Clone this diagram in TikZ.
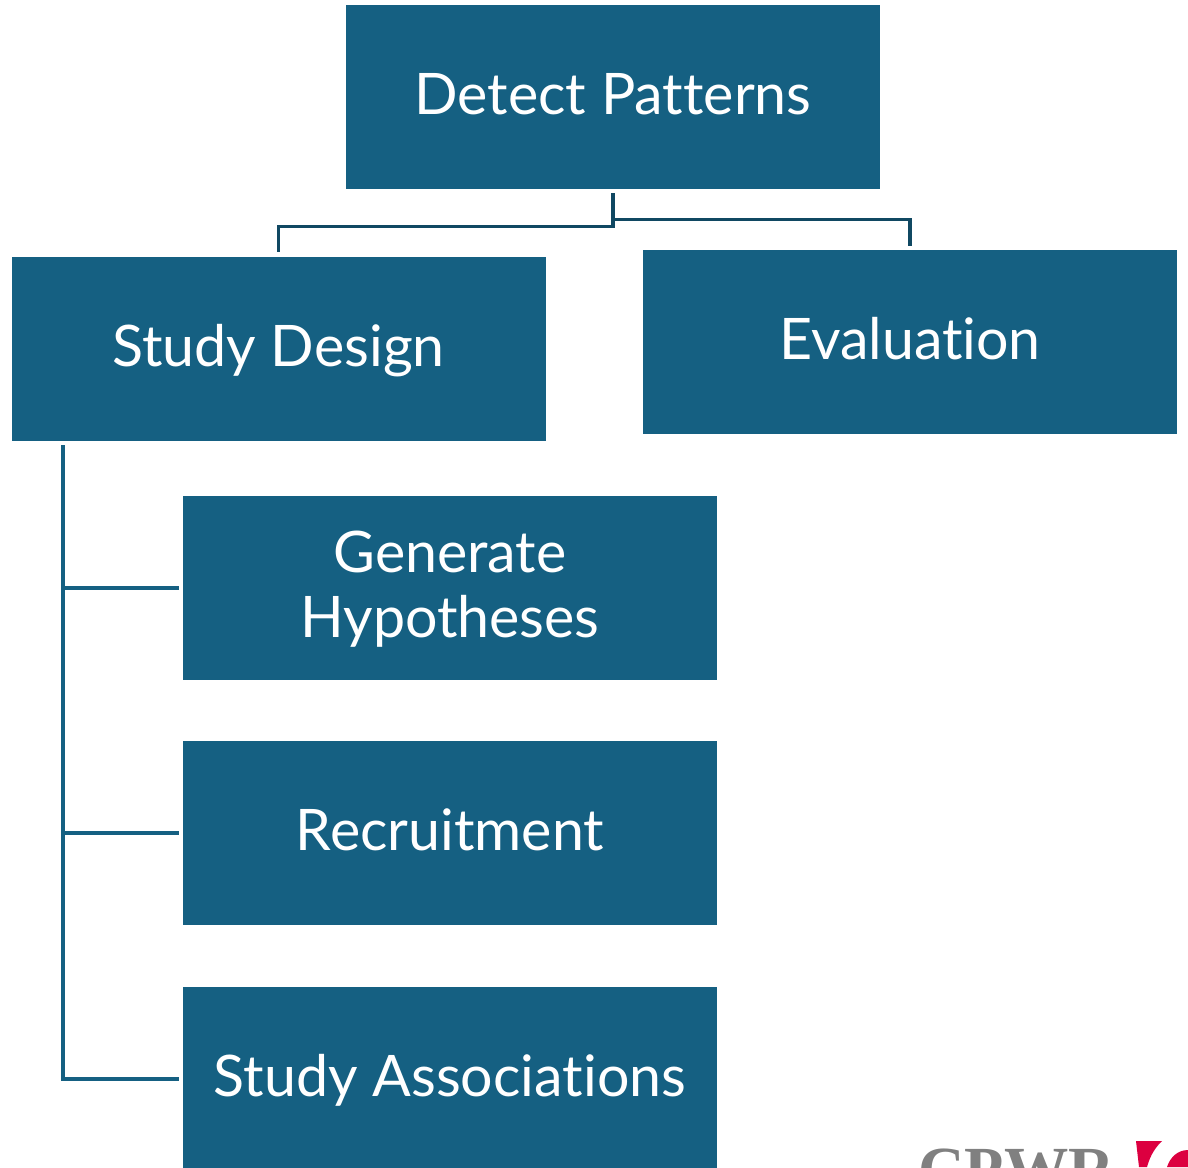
\documentclass[tikz,border=0pt]{standalone}
\usepackage{fontspec}
\setmainfont{Lato}[Ligatures=NoCommon]
\newfontfamily\logofont{Liberation Serif}[Scale=1]
\usepackage{xcolor}
\usetikzlibrary{calc}
\definecolor{boxblue}{HTML}{156082}
\definecolor{linkdark}{HTML}{104862}
\definecolor{logored}{HTML}{DC0040}
\tikzset{
	stepbox/.style={fill=boxblue,text=white,minimum width=10.68cm,minimum height=3.68cm,align=center,inner sep=0pt,text height=0.9cm,text depth=0.22cm,font=\fontsize{32.6}{36.8}\selectfont},
	toplink/.style={draw=linkdark,line width=2pt},
	sidelink/.style={draw=boxblue,line width=2.4pt}
}
\begin{document}
\begin{tikzpicture}
\useasboundingbox (0,0) rectangle (23.76,-23.34);
\node[stepbox] (detect) at (12.26,-1.94) {Detect Patterns};
\node[stepbox] (design) at (5.57,-6.98) {Study Design};
\node[stepbox] (evaluation) at (18.2,-6.84) {Evaluation};
\node[stepbox,text height=2.2cm,text depth=0.24cm] (generate) at (9,-11.76) {Generate\\Hypotheses};
\node[stepbox] (recruitment) at (9,-16.66) {Recruitment};
\node[stepbox] (associations) at (9,-21.58) {Study Associations};
\draw[toplink,shorten <=0.08cm,shorten >=0.1cm] (detect.south) -- ++(0,-0.74) -| (design.north);
\draw[toplink,shorten <=0.08cm,shorten >=0.08cm] (detect.south) -- ++(0,-0.6) -| (evaluation.north);
\coordinate (trunk) at ($(design.south west)+(1.03,0)$);
\foreach \n in {generate,recruitment,associations} {
	\draw[sidelink,shorten <=0.08cm,shorten >=0.07cm] (trunk) |- (\n.west);
}
\begin{scope}
\clip (0,0) rectangle (23.76,-23.34);
\node[anchor=base west,inner sep=0pt,text=gray,font=\logofont\bfseries\fontsize{36.6}{40}\selectfont] (logo) at (18.36,-23.82) {CPWR};
\fill[logored] (22.72,-22.82) -- (23.24,-22.82) .. controls (23.05,-23) and (22.98,-23.2) .. (22.94,-23.34) -- (22.78,-23.34) -- cycle;
\fill[logored] (23.76,-23) .. controls (23.55,-23) and (23.4,-23.15) .. (23.34,-23.34) -- (23.76,-23.34) -- cycle;
\end{scope}
\end{tikzpicture}
\end{document}
